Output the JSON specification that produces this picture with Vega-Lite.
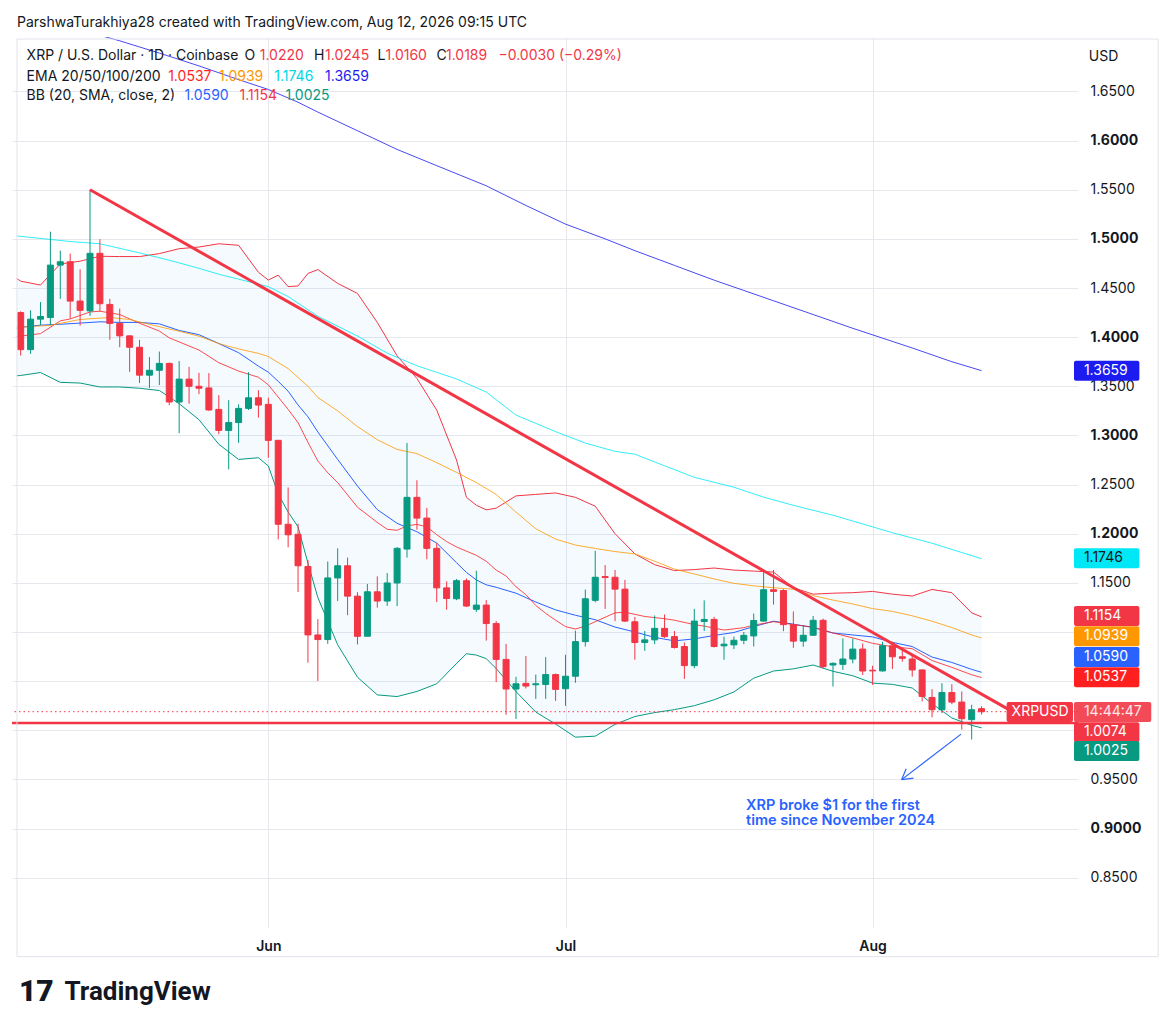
{
"$schema":"https://vega.github.io/schema/vega-lite/v6.json",
"width":1066,"height":891,"autosize":"none",
"padding":{"left":12,"top":37,"right":98,"bottom":106},
"background":"#ffffff",
"config":{"view":{"stroke":null},"font":"Inter","text":{"font":"Inter"}},
"datasets":{
"candles":[
{"d":"2026-05-07","o":1.425,"h":1.4263,"l":1.3813,"c":1.3873},
{"d":"2026-05-08","o":1.3873,"h":1.4273,"l":1.383,"c":1.4183},
{"d":"2026-05-09","o":1.4183,"h":1.4357,"l":1.4123,"c":1.421},
{"d":"2026-05-10","o":1.42,"h":1.5073,"l":1.4123,"c":1.4733},
{"d":"2026-05-11","o":1.4733,"h":1.488,"l":1.439,"c":1.4767},
{"d":"2026-05-12","o":1.4767,"h":1.485,"l":1.419,"c":1.4367},
{"d":"2026-05-13","o":1.4367,"h":1.469,"l":1.4117,"c":1.4273},
{"d":"2026-05-14","o":1.4267,"h":1.55,"l":1.4217,"c":1.4853},
{"d":"2026-05-15","o":1.4853,"h":1.4997,"l":1.4263,"c":1.434},
{"d":"2026-05-16","o":1.4333,"h":1.439,"l":1.3973,"c":1.414},
{"d":"2026-05-17","o":1.414,"h":1.429,"l":1.3897,"c":1.4013},
{"d":"2026-05-18","o":1.4013,"h":1.402,"l":1.3647,"c":1.3897},
{"d":"2026-05-19","o":1.3897,"h":1.3973,"l":1.3533,"c":1.3613},
{"d":"2026-05-20","o":1.3613,"h":1.3797,"l":1.3483,"c":1.3663},
{"d":"2026-05-21","o":1.3663,"h":1.3853,"l":1.3513,"c":1.3733},
{"d":"2026-05-22","o":1.3733,"h":1.374,"l":1.3307,"c":1.334},
{"d":"2026-05-23","o":1.334,"h":1.3757,"l":1.3023,"c":1.3573},
{"d":"2026-05-24","o":1.3573,"h":1.3697,"l":1.3323,"c":1.35},
{"d":"2026-05-25","o":1.35,"h":1.3637,"l":1.342,"c":1.348},
{"d":"2026-05-26","o":1.3483,"h":1.3634,"l":1.3249,"c":1.3259},
{"d":"2026-05-27","o":1.3265,"h":1.341,"l":1.3014,"c":1.3051},
{"d":"2026-05-28","o":1.3051,"h":1.3359,"l":1.2655,"c":1.3131},
{"d":"2026-05-29","o":1.3131,"h":1.3316,"l":1.2924,"c":1.3275},
{"d":"2026-05-30","o":1.3275,"h":1.3644,"l":1.3259,"c":1.3383},
{"d":"2026-05-31","o":1.3383,"h":1.346,"l":1.3182,"c":1.3309},
{"d":"2026-06-01","o":1.3316,"h":1.3383,"l":1.2773,"c":1.295},
{"d":"2026-06-02","o":1.295,"h":1.2955,"l":1.1942,"c":1.2096},
{"d":"2026-06-03","o":1.2096,"h":1.2471,"l":1.1861,"c":1.1989},
{"d":"2026-06-04","o":1.1995,"h":1.2103,"l":1.1406,"c":1.1674},
{"d":"2026-06-05","o":1.1667,"h":1.1734,"l":1.0688,"c":1.097},
{"d":"2026-06-06","o":1.097,"h":1.1131,"l":1.0501,"c":1.0923},
{"d":"2026-06-07","o":1.0923,"h":1.1717,"l":1.0879,"c":1.155},
{"d":"2026-06-08","o":1.155,"h":1.1851,"l":1.1315,"c":1.1674},
{"d":"2026-06-09","o":1.1674,"h":1.1757,"l":1.1171,"c":1.1365},
{"d":"2026-06-10","o":1.1365,"h":1.1405,"l":1.0873,"c":1.0956},
{"d":"2026-06-11","o":1.0957,"h":1.1489,"l":1.0955,"c":1.1409},
{"d":"2026-06-12","o":1.1409,"h":1.1566,"l":1.1248,"c":1.1315},
{"d":"2026-06-13","o":1.1315,"h":1.16,"l":1.1265,"c":1.1499},
{"d":"2026-06-14","o":1.1499,"h":1.1865,"l":1.1264,"c":1.1851},
{"d":"2026-06-15","o":1.1844,"h":1.2923,"l":1.1757,"c":1.237},
{"d":"2026-06-16","o":1.237,"h":1.2544,"l":1.2042,"c":1.2159},
{"d":"2026-06-17","o":1.2159,"h":1.2263,"l":1.174,"c":1.1851},
{"d":"2026-06-18","o":1.1851,"h":1.1907,"l":1.1304,"c":1.1449},
{"d":"2026-06-19","o":1.1449,"h":1.1516,"l":1.1227,"c":1.1341},
{"d":"2026-06-20","o":1.1338,"h":1.1539,"l":1.1324,"c":1.1522},
{"d":"2026-06-21","o":1.1522,"h":1.1545,"l":1.1254,"c":1.1264},
{"d":"2026-06-22","o":1.1231,"h":1.1623,"l":1.1204,"c":1.1274},
{"d":"2026-06-23","o":1.1274,"h":1.1324,"l":1.0912,"c":1.1086},
{"d":"2026-06-24","o":1.1086,"h":1.1113,"l":1.049,"c":1.0721},
{"d":"2026-06-25","o":1.0721,"h":1.0879,"l":1.0158,"c":1.042},
{"d":"2026-06-26","o":1.042,"h":1.0544,"l":1.0115,"c":1.0473},
{"d":"2026-06-27","o":1.0477,"h":1.0755,"l":1.0426,"c":1.045},
{"d":"2026-06-28","o":1.0463,"h":1.0567,"l":1.0319,"c":1.0473},
{"d":"2026-06-29","o":1.0466,"h":1.0745,"l":1.0319,"c":1.0567},
{"d":"2026-06-30","o":1.0567,"h":1.0577,"l":1.0299,"c":1.0416},
{"d":"2026-07-01","o":1.0423,"h":1.0768,"l":1.0249,"c":1.055},
{"d":"2026-07-02","o":1.055,"h":1.1013,"l":1.0483,"c":1.0902},
{"d":"2026-07-03","o":1.0902,"h":1.1432,"l":1.0852,"c":1.1338},
{"d":"2026-07-04","o":1.1322,"h":1.1826,"l":1.1302,"c":1.1557},
{"d":"2026-07-05","o":1.1564,"h":1.1681,"l":1.1235,"c":1.1554},
{"d":"2026-07-06","o":1.1557,"h":1.1631,"l":1.1111,"c":1.1436},
{"d":"2026-07-07","o":1.1436,"h":1.153,"l":1.1101,"c":1.1111},
{"d":"2026-07-08","o":1.1104,"h":1.1154,"l":1.0718,"c":1.0893},
{"d":"2026-07-09","o":1.0893,"h":1.101,"l":1.0809,"c":1.092},
{"d":"2026-07-10","o":1.092,"h":1.1168,"l":1.0876,"c":1.1037},
{"d":"2026-07-11","o":1.1037,"h":1.1178,"l":1.094,"c":1.0953},
{"d":"2026-07-12","o":1.0953,"h":1.101,"l":1.0832,"c":1.0842},
{"d":"2026-07-13","o":1.0852,"h":1.0893,"l":1.0523,"c":1.0658},
{"d":"2026-07-14","o":1.0658,"h":1.1235,"l":1.0631,"c":1.1111},
{"d":"2026-07-15","o":1.1107,"h":1.1322,"l":1.101,"c":1.1128},
{"d":"2026-07-16","o":1.1128,"h":1.1154,"l":1.0842,"c":1.0852},
{"d":"2026-07-17","o":1.0859,"h":1.0953,"l":1.0718,"c":1.0876},
{"d":"2026-07-18","o":1.0869,"h":1.0953,"l":1.0826,"c":1.0916},
{"d":"2026-07-19","o":1.0916,"h":1.1,"l":1.0876,"c":1.0966},
{"d":"2026-07-20","o":1.096,"h":1.1188,"l":1.0852,"c":1.1117},
{"d":"2026-07-21","o":1.1111,"h":1.1624,"l":1.1108,"c":1.143},
{"d":"2026-07-22","o":1.143,"h":1.1631,"l":1.1279,"c":1.1413},
{"d":"2026-07-23","o":1.1422,"h":1.1435,"l":1.1008,"c":1.1075},
{"d":"2026-07-24","o":1.1075,"h":1.121,"l":1.0839,"c":1.0907},
{"d":"2026-07-25","o":1.0907,"h":1.1069,"l":1.085,"c":1.0967},
{"d":"2026-07-26","o":1.0967,"h":1.1163,"l":1.0961,"c":1.1119},
{"d":"2026-07-27","o":1.1119,"h":1.1136,"l":1.063,"c":1.0647},
{"d":"2026-07-28","o":1.0664,"h":1.0691,"l":1.0445,"c":1.0681},
{"d":"2026-07-29","o":1.0671,"h":1.0934,"l":1.0614,"c":1.0725},
{"d":"2026-07-30","o":1.0725,"h":1.0934,"l":1.0681,"c":1.0826},
{"d":"2026-07-31","o":1.0826,"h":1.0883,"l":1.0563,"c":1.0603},
{"d":"2026-08-01","o":1.0611,"h":1.0657,"l":1.0462,"c":1.0604},
{"d":"2026-08-02","o":1.0604,"h":1.09,"l":1.0598,"c":1.086},
{"d":"2026-08-03","o":1.086,"h":1.09,"l":1.0624,"c":1.0748},
{"d":"2026-08-04","o":1.0748,"h":1.0833,"l":1.0698,"c":1.0732},
{"d":"2026-08-05","o":1.0725,"h":1.0765,"l":1.0546,"c":1.0614},
{"d":"2026-08-06","o":1.0614,"h":1.0618,"l":1.0293,"c":1.0344},
{"d":"2026-08-07","o":1.0334,"h":1.0418,"l":1.0132,"c":1.0209},
{"d":"2026-08-08","o":1.0209,"h":1.0479,"l":1.0175,"c":1.0384},
{"d":"2026-08-09","o":1.0384,"h":1.0469,"l":1.0266,"c":1.0287},
{"d":"2026-08-10","o":1.0287,"h":1.0395,"l":1.0007,"c":1.0118},
{"d":"2026-08-11","o":1.0108,"h":1.026,"l":0.9906,"c":1.0209},
{"d":"2026-08-12","o":1.022,"h":1.0245,"l":1.016,"c":1.0189}
],
"bb":[
{"d":"2026-05-06T14:24:00Z","upper":1.4597,"basis":1.409,"lower":1.3607},
{"d":"2026-05-07","upper":1.457,"basis":1.41,"lower":1.361},
{"d":"2026-05-09","upper":1.453,"basis":1.4122,"lower":1.364},
{"d":"2026-05-11","upper":1.4745,"basis":1.4131,"lower":1.354},
{"d":"2026-05-13","upper":1.4773,"basis":1.4143,"lower":1.3533},
{"d":"2026-05-15","upper":1.4823,"basis":1.4156,"lower":1.3493},
{"d":"2026-05-17","upper":1.482,"basis":1.415,"lower":1.3493},
{"d":"2026-05-19","upper":1.482,"basis":1.415,"lower":1.348},
{"d":"2026-05-21","upper":1.485,"basis":1.4135,"lower":1.3457},
{"d":"2026-05-23","upper":1.49,"basis":1.4068,"lower":1.3323},
{"d":"2026-05-25","upper":1.4917,"basis":1.4025,"lower":1.316},
{"d":"2026-05-27","upper":1.495,"basis":1.3935,"lower":1.291},
{"d":"2026-05-29","upper":1.4935,"basis":1.3842,"lower":1.2756},
{"d":"2026-05-31","upper":1.466,"basis":1.3705,"lower":1.2773},
{"d":"2026-06-01","upper":1.4581,"basis":1.3644,"lower":1.2689},
{"d":"2026-06-02","upper":1.4631,"basis":1.355,"lower":1.2404},
{"d":"2026-06-03","upper":1.4514,"basis":1.345,"lower":1.222},
{"d":"2026-06-04","upper":1.4521,"basis":1.331,"lower":1.207},
{"d":"2026-06-05","upper":1.4648,"basis":1.319,"lower":1.17},
{"d":"2026-06-06","upper":1.4688,"basis":1.3035,"lower":1.135},
{"d":"2026-06-08","upper":1.4547,"basis":1.2756,"lower":1.087},
{"d":"2026-06-10","upper":1.4445,"basis":1.2485,"lower":1.054},
{"d":"2026-06-12","upper":1.415,"basis":1.2245,"lower":1.036},
{"d":"2026-06-14","upper":1.381,"basis":1.2106,"lower":1.0343},
{"d":"2026-06-16","upper":1.358,"basis":1.202,"lower":1.0395},
{"d":"2026-06-18","upper":1.3258,"basis":1.1905,"lower":1.0473},
{"d":"2026-06-20","upper":1.275,"basis":1.1705,"lower":1.068},
{"d":"2026-06-21","upper":1.237,"basis":1.1606,"lower":1.0779},
{"d":"2026-06-22","upper":1.229,"basis":1.153,"lower":1.0765},
{"d":"2026-06-23","upper":1.2243,"basis":1.148,"lower":1.0729},
{"d":"2026-06-24","upper":1.226,"basis":1.1455,"lower":1.0628},
{"d":"2026-06-26","upper":1.2385,"basis":1.1395,"lower":1.0394},
{"d":"2026-06-28","upper":1.24,"basis":1.1305,"lower":1.0185},
{"d":"2026-06-30","upper":1.2415,"basis":1.1225,"lower":1.0063},
{"d":"2026-07-02","upper":1.237,"basis":1.117,"lower":0.993},
{"d":"2026-07-04","upper":1.228,"basis":1.1125,"lower":0.994},
{"d":"2026-07-06","upper":1.2,"basis":1.105,"lower":1.006},
{"d":"2026-07-08","upper":1.1795,"basis":1.1,"lower":1.014},
{"d":"2026-07-10","upper":1.1685,"basis":1.0945,"lower":1.018},
{"d":"2026-07-12","upper":1.1625,"basis":1.091,"lower":1.021},
{"d":"2026-07-14","upper":1.1635,"basis":1.093,"lower":1.025},
{"d":"2026-07-16","upper":1.1651,"basis":1.0965,"lower":1.031},
{"d":"2026-07-18","upper":1.163,"basis":1.0995,"lower":1.039},
{"d":"2026-07-20","upper":1.162,"basis":1.1055,"lower":1.053},
{"d":"2026-07-22","upper":1.161,"basis":1.111,"lower":1.0603},
{"d":"2026-07-24","upper":1.145,"basis":1.108,"lower":1.0625},
{"d":"2026-07-26","upper":1.1385,"basis":1.1045,"lower":1.0664},
{"d":"2026-07-28","upper":1.1395,"basis":1.099,"lower":1.06},
{"d":"2026-07-30","upper":1.14,"basis":1.097,"lower":1.0555},
{"d":"2026-08-01","upper":1.1413,"basis":1.095,"lower":1.048},
{"d":"2026-08-03","upper":1.1385,"basis":1.0895,"lower":1.0467},
{"d":"2026-08-05","upper":1.1366,"basis":1.0852,"lower":1.043},
{"d":"2026-08-07","upper":1.1433,"basis":1.0745,"lower":1.027},
{"d":"2026-08-09","upper":1.14,"basis":1.069,"lower":1.0125},
{"d":"2026-08-11","upper":1.1195,"basis":1.062,"lower":1.005},
{"d":"2026-08-12","upper":1.1154,"basis":1.059,"lower":1.0025}
],
"ema":[
{"d":"2026-05-06T14:24:00Z","s":"EMA20","v":1.4007},{"d":"2026-05-07","s":"EMA20","v":1.401},{"d":"2026-05-09","s":"EMA20","v":1.4036},{"d":"2026-05-11","s":"EMA20","v":1.4166},{"d":"2026-05-12","s":"EMA20","v":1.4185},{"d":"2026-05-14","s":"EMA20","v":1.4256},{"d":"2026-05-15","s":"EMA20","v":1.4264},{"d":"2026-05-17","s":"EMA20","v":1.423},{"d":"2026-05-19","s":"EMA20","v":1.4142},{"d":"2026-05-21","s":"EMA20","v":1.4062},{"d":"2026-05-22","s":"EMA20","v":1.3993},{"d":"2026-05-24","s":"EMA20","v":1.391},{"d":"2026-05-25","s":"EMA20","v":1.3869},{"d":"2026-05-27","s":"EMA20","v":1.374},{"d":"2026-05-29","s":"EMA20","v":1.3655},{"d":"2026-05-31","s":"EMA20","v":1.3592},{"d":"2026-06-01","s":"EMA20","v":1.3515},{"d":"2026-06-02","s":"EMA20","v":1.339},{"d":"2026-06-03","s":"EMA20","v":1.3265},{"d":"2026-06-04","s":"EMA20","v":1.313},{"d":"2026-06-05","s":"EMA20","v":1.293},{"d":"2026-06-06","s":"EMA20","v":1.274},{"d":"2026-06-07","s":"EMA20","v":1.262},{"d":"2026-06-08","s":"EMA20","v":1.252},{"d":"2026-06-10","s":"EMA20","v":1.227},{"d":"2026-06-12","s":"EMA20","v":1.2115},{"d":"2026-06-13","s":"EMA20","v":1.2045},{"d":"2026-06-14","s":"EMA20","v":1.2035},{"d":"2026-06-15","s":"EMA20","v":1.208},{"d":"2026-06-16","s":"EMA20","v":1.2095},{"d":"2026-06-17","s":"EMA20","v":1.207},{"d":"2026-06-18","s":"EMA20","v":1.199},{"d":"2026-06-19","s":"EMA20","v":1.192},{"d":"2026-06-20","s":"EMA20","v":1.1865},{"d":"2026-06-22","s":"EMA20","v":1.178},{"d":"2026-06-23","s":"EMA20","v":1.172},{"d":"2026-06-24","s":"EMA20","v":1.163},{"d":"2026-06-25","s":"EMA20","v":1.157},{"d":"2026-06-26","s":"EMA20","v":1.146},{"d":"2026-06-27","s":"EMA20","v":1.138},{"d":"2026-06-28","s":"EMA20","v":1.127},{"d":"2026-06-29","s":"EMA20","v":1.119},{"d":"2026-06-30","s":"EMA20","v":1.112},{"d":"2026-07-01","s":"EMA20","v":1.1055},{"d":"2026-07-02","s":"EMA20","v":1.103},{"d":"2026-07-03","s":"EMA20","v":1.106},{"d":"2026-07-04","s":"EMA20","v":1.1105},{"d":"2026-07-06","s":"EMA20","v":1.1195},{"d":"2026-07-07","s":"EMA20","v":1.1201},{"d":"2026-07-09","s":"EMA20","v":1.1158},{"d":"2026-07-11","s":"EMA20","v":1.1135},{"d":"2026-07-12","s":"EMA20","v":1.112},{"d":"2026-07-14","s":"EMA20","v":1.1075},{"d":"2026-07-15","s":"EMA20","v":1.106},{"d":"2026-07-17","s":"EMA20","v":1.102},{"d":"2026-07-19","s":"EMA20","v":1.1044},{"d":"2026-07-20","s":"EMA20","v":1.107},{"d":"2026-07-22","s":"EMA20","v":1.1105},{"d":"2026-07-24","s":"EMA20","v":1.1075},{"d":"2026-07-26","s":"EMA20","v":1.105},{"d":"2026-07-28","s":"EMA20","v":1.099},{"d":"2026-07-30","s":"EMA20","v":1.094},{"d":"2026-08-01","s":"EMA20","v":1.0885},{"d":"2026-08-03","s":"EMA20","v":1.085},{"d":"2026-08-05","s":"EMA20","v":1.083},{"d":"2026-08-06","s":"EMA20","v":1.077},{"d":"2026-08-07","s":"EMA20","v":1.071},{"d":"2026-08-09","s":"EMA20","v":1.064},{"d":"2026-08-11","s":"EMA20","v":1.0565},{"d":"2026-08-12","s":"EMA20","v":1.0537},
{"d":"2026-05-06T14:24:00Z","s":"EMA50","v":1.41},{"d":"2026-05-07","s":"EMA50","v":1.4102},{"d":"2026-05-10","s":"EMA50","v":1.412},{"d":"2026-05-13","s":"EMA50","v":1.418},{"d":"2026-05-16","s":"EMA50","v":1.42},{"d":"2026-05-18","s":"EMA50","v":1.418},{"d":"2026-05-20","s":"EMA50","v":1.413},{"d":"2026-05-23","s":"EMA50","v":1.406},{"d":"2026-05-25","s":"EMA50","v":1.401},{"d":"2026-05-27","s":"EMA50","v":1.3935},{"d":"2026-05-29","s":"EMA50","v":1.388},{"d":"2026-05-31","s":"EMA50","v":1.3835},{"d":"2026-06-01","s":"EMA50","v":1.3803},{"d":"2026-06-03","s":"EMA50","v":1.368},{"d":"2026-06-05","s":"EMA50","v":1.35},{"d":"2026-06-06","s":"EMA50","v":1.3386},{"d":"2026-06-08","s":"EMA50","v":1.325},{"d":"2026-06-10","s":"EMA50","v":1.309},{"d":"2026-06-12","s":"EMA50","v":1.2956},{"d":"2026-06-14","s":"EMA50","v":1.2858},{"d":"2026-06-16","s":"EMA50","v":1.2815},{"d":"2026-06-18","s":"EMA50","v":1.2723},{"d":"2026-06-20","s":"EMA50","v":1.2624},{"d":"2026-06-22","s":"EMA50","v":1.252},{"d":"2026-06-24","s":"EMA50","v":1.24},{"d":"2026-06-26","s":"EMA50","v":1.222},{"d":"2026-06-28","s":"EMA50","v":1.205},{"d":"2026-06-30","s":"EMA50","v":1.1945},{"d":"2026-07-02","s":"EMA50","v":1.1885},{"d":"2026-07-04","s":"EMA50","v":1.185},{"d":"2026-07-06","s":"EMA50","v":1.1818},{"d":"2026-07-08","s":"EMA50","v":1.1795},{"d":"2026-07-10","s":"EMA50","v":1.172},{"d":"2026-07-12","s":"EMA50","v":1.164},{"d":"2026-07-14","s":"EMA50","v":1.159},{"d":"2026-07-16","s":"EMA50","v":1.154},{"d":"2026-07-18","s":"EMA50","v":1.1495},{"d":"2026-07-20","s":"EMA50","v":1.147},{"d":"2026-07-22","s":"EMA50","v":1.145},{"d":"2026-07-24","s":"EMA50","v":1.1435},{"d":"2026-07-26","s":"EMA50","v":1.137},{"d":"2026-07-28","s":"EMA50","v":1.1325},{"d":"2026-07-30","s":"EMA50","v":1.1285},{"d":"2026-08-01","s":"EMA50","v":1.1238},{"d":"2026-08-03","s":"EMA50","v":1.121},{"d":"2026-08-05","s":"EMA50","v":1.1165},{"d":"2026-08-07","s":"EMA50","v":1.111},{"d":"2026-08-09","s":"EMA50","v":1.1045},{"d":"2026-08-11","s":"EMA50","v":1.097},{"d":"2026-08-12","s":"EMA50","v":1.0939},
{"d":"2026-05-06T14:24:00Z","s":"EMA100","v":1.503},{"d":"2026-05-12","s":"EMA100","v":1.4973},{"d":"2026-05-15","s":"EMA100","v":1.495},{"d":"2026-05-19","s":"EMA100","v":1.4857},{"d":"2026-05-22","s":"EMA100","v":1.4783},{"d":"2026-05-25","s":"EMA100","v":1.47},{"d":"2026-05-27","s":"EMA100","v":1.464},{"d":"2026-05-29","s":"EMA100","v":1.459},{"d":"2026-06-01","s":"EMA100","v":1.4514},{"d":"2026-06-03","s":"EMA100","v":1.4413},{"d":"2026-06-06","s":"EMA100","v":1.4212},{"d":"2026-06-10","s":"EMA100","v":1.4011},{"d":"2026-06-13","s":"EMA100","v":1.3837},{"d":"2026-06-16","s":"EMA100","v":1.3709},{"d":"2026-06-20","s":"EMA100","v":1.3575},{"d":"2026-06-23","s":"EMA100","v":1.3441},{"d":"2026-06-26","s":"EMA100","v":1.3207},{"d":"2026-06-30","s":"EMA100","v":1.3039},{"d":"2026-07-03","s":"EMA100","v":1.2922},{"d":"2026-07-06","s":"EMA100","v":1.2838},{"d":"2026-07-08","s":"EMA100","v":1.2809},{"d":"2026-07-11","s":"EMA100","v":1.2691},{"d":"2026-07-14","s":"EMA100","v":1.2574},{"d":"2026-07-18","s":"EMA100","v":1.2473},{"d":"2026-07-21","s":"EMA100","v":1.2372},{"d":"2026-07-24","s":"EMA100","v":1.2289},{"d":"2026-07-28","s":"EMA100","v":1.2188},{"d":"2026-08-01","s":"EMA100","v":1.207},{"d":"2026-08-03","s":"EMA100","v":1.201},{"d":"2026-08-07","s":"EMA100","v":1.1903},{"d":"2026-08-12","s":"EMA100","v":1.1746},
{"d":"2026-05-06T14:24:00Z","s":"EMA200","v":1.7306},{"d":"2026-05-07","s":"EMA200","v":1.7295},{"d":"2026-05-12","s":"EMA200","v":1.7155},{"d":"2026-05-17","s":"EMA200","v":1.7015},{"d":"2026-05-21","s":"EMA200","v":1.689},{"d":"2026-05-25","s":"EMA200","v":1.676},{"d":"2026-05-29","s":"EMA200","v":1.662},{"d":"2026-06-01","s":"EMA200","v":1.652},{"d":"2026-06-04","s":"EMA200","v":1.639},{"d":"2026-06-06","s":"EMA200","v":1.629},{"d":"2026-06-10","s":"EMA200","v":1.61},{"d":"2026-06-14","s":"EMA200","v":1.591},{"d":"2026-06-18","s":"EMA200","v":1.5745},{"d":"2026-06-23","s":"EMA200","v":1.554},{"d":"2026-06-27","s":"EMA200","v":1.534},{"d":"2026-07-01","s":"EMA200","v":1.515},{"d":"2026-07-05","s":"EMA200","v":1.5},{"d":"2026-07-08","s":"EMA200","v":1.488},{"d":"2026-07-12","s":"EMA200","v":1.473},{"d":"2026-07-16","s":"EMA200","v":1.458},{"d":"2026-07-19","s":"EMA200","v":1.4475},{"d":"2026-07-22","s":"EMA200","v":1.437},{"d":"2026-07-26","s":"EMA200","v":1.423},{"d":"2026-07-30","s":"EMA200","v":1.409},{"d":"2026-08-02","s":"EMA200","v":1.399},{"d":"2026-08-05","s":"EMA200","v":1.389},{"d":"2026-08-09","s":"EMA200","v":1.375},{"d":"2026-08-12","s":"EMA200","v":1.3659}
],
"tags":[
{"s":"EMA200","label":"1.3659","at":1.3659},
{"s":"EMA100","label":"1.1746","at":1.1751},
{"s":"upper","label":"1.1154","at":1.1163},
{"s":"EMA50","label":"1.0939","at":1.0957},
{"s":"basis","label":"1.0590","at":1.0746},
{"s":"EMA20","label":"1.0537","at":1.0539},
{"s":"level","label":"1.0074","at":0.9981},
{"s":"lower","label":"1.0025","at":0.979}
]
},
"layer":[
{"data":{"name":"bb"},"mark":{"type":"area","color":"#2196f3","opacity":0.05,"clip":true},
 "encoding":{
  "x":{"field":"d","type":"temporal","scale":{"type":"utc","domain":[{"year":2026,"month":5,"date":6,"hours":15,"minutes":7,"seconds":12,"utc":true},{"year":2026,"month":8,"date":21,"hours":5,"minutes":31,"seconds":12,"utc":true}]},
   "axis":{"title":null,"values":[{"year":2026,"month":6,"date":1,"utc":true},{"year":2026,"month":7,"date":1,"utc":true},{"year":2026,"month":8,"date":1,"utc":true}],"labelExpr":"utcFormat(datum.value, '%b')","grid":true,"gridColor":"#e6e8ee","ticks":false,"tickSize":0,"domain":false,"labelPadding":11,"labelFontSize":14,"labelFontWeight":600,"labelColor":"#131722","labelFont":"Inter"}},
  "y":{"field":"upper","type":"quantitative","scale":{"domain":[0.80392,1.7003],"zero":false,"nice":false},
   "axis":{"title":null,"orient":"right","values":[0.85,0.9,0.95,1.0,1.05,1.1,1.15,1.2,1.25,1.3,1.35,1.4,1.45,1.5,1.55,1.6,1.65],"labelExpr":"(abs(datum.value-1) < 0.001 || abs(datum.value-1.05) < 0.001 || abs(datum.value-1.1) < 0.001) ? '' : format(datum.value, '.4f')","grid":true,"gridColor":"#e6e8ee","ticks":false,"tickSize":0,"domain":false,"labelPadding":12,"labelFontSize":14,"labelColor":"#131722","labelFont":"Inter","labelOverlap":false,"labelFontWeight":{"condition":{"test":"round(datum.value*100) % 10 === 0","value":"bold"},"value":"normal"}}},
  "y2":{"field":"lower"}}},
{"data":{"name":"bb"},"transform":[{"fold":["upper","basis","lower"],"as":["s","v"]}],
 "mark":{"type":"line","strokeWidth":1,"clip":true},
 "encoding":{"x":{"field":"d","type":"temporal"},"y":{"field":"v","type":"quantitative"},
  "color":{"field":"s","type":"nominal","legend":null,"scale":{"domain":["EMA20","EMA50","EMA100","EMA200","basis","upper","lower","level"],"range":["#ff1f1f","#ff9800","#00e8f5","#1c1cf0","#2962ff","#f23645","#089981","#f23645"]}}}},
{"data":{"name":"ema"},"mark":{"type":"line","strokeWidth":1,"strokeOpacity":0.8,"clip":true},
 "encoding":{"x":{"field":"d","type":"temporal"},"y":{"field":"v","type":"quantitative"},
  "color":{"field":"s","type":"nominal","legend":null,"scale":{"domain":["EMA20","EMA50","EMA100","EMA200","basis","upper","lower","level"],"range":["#ff1f1f","#ff9800","#00e8f5","#1c1cf0","#2962ff","#f23645","#089981","#f23645"]}}}},
{"data":{"name":"candles"},"mark":{"type":"rule","strokeWidth":1},
 "encoding":{"x":{"field":"d","type":"temporal"},"y":{"field":"l","type":"quantitative"},"y2":{"field":"h"},
  "color":{"condition":{"test":"datum.c < datum.o","value":"#f23645"},"value":"#089981"}}},
{"data":{"name":"candles"},"mark":{"type":"bar","size":6,"strokeWidth":1},
 "encoding":{"x":{"field":"d","type":"temporal"},"y":{"field":"o","type":"quantitative"},"y2":{"field":"c"},
  "fill":{"condition":{"test":"datum.c < datum.o","value":"#f23645"},"value":"#089981"},
  "stroke":{"condition":{"test":"datum.c < datum.o","value":"#f23645"},"value":"#089981"}}},
{"data":{"values":[{}]},"mark":{"type":"rule","color":"#f23645","strokeWidth":1,"strokeDash":[1.5,3]},
 "encoding":{"y":{"datum":1.0189,"type":"quantitative"}}},
{"data":{"values":[{}]},"mark":{"type":"rule","color":"#f23645","strokeWidth":2.5},
 "encoding":{"y":{"datum":1.0074,"type":"quantitative"}}},
{"data":{"values":[{}]},"mark":{"type":"rule","color":"#f23645","strokeWidth":3,"clip":false},
 "encoding":{"x":{"datum":{"year":2026,"month":5,"date":14,"utc":true},"type":"temporal"},"x2":{"datum":{"year":2026,"month":8,"date":14,"hours":15,"minutes":7,"utc":true}},
  "y":{"datum":1.55,"type":"quantitative"},"y2":{"datum":1.0218}}},
{"data":{"values":[{}]},"mark":{"type":"rule","color":"#2962ff","strokeWidth":1.2},
 "encoding":{"x":{"datum":{"year":2026,"month":8,"date":9,"hours":22,"minutes":19,"utc":true},"type":"temporal"},"x2":{"datum":{"year":2026,"month":8,"date":3,"hours":22,"minutes":19,"utc":true}},
  "y":{"datum":0.9961,"type":"quantitative"},"y2":{"datum":0.9498}}},
{"data":{"values":[{}]},"mark":{"type":"rule","color":"#2962ff","strokeWidth":1.2},
 "encoding":{"x":{"datum":{"year":2026,"month":8,"date":5,"hours":3,"minutes":7,"utc":true},"type":"temporal"},"x2":{"datum":{"year":2026,"month":8,"date":3,"hours":22,"minutes":19,"utc":true}},
  "y":{"datum":0.9514,"type":"quantitative"},"y2":{"datum":0.9498}}},
{"data":{"values":[{}]},"mark":{"type":"rule","color":"#2962ff","strokeWidth":1.2},
 "encoding":{"x":{"datum":{"year":2026,"month":8,"date":4,"hours":9,"minutes":22,"utc":true},"type":"temporal"},"x2":{"datum":{"year":2026,"month":8,"date":3,"hours":22,"minutes":19,"utc":true}},
  "y":{"datum":0.9609,"type":"quantitative"},"y2":{"datum":0.9498}}},
{"data":{"values":[{}]},"mark":{"type":"text","align":"left","baseline":"middle","fontSize":14.5,"fontWeight":600,"lineHeight":15,"color":"#2962ff"},
 "encoding":{"x":{"datum":{"year":2026,"month":7,"date":19,"hours":5,"minutes":31,"utc":true},"type":"temporal"},"y":{"datum":0.92314,"type":"quantitative"},"text":{"value":["XRP broke $1 for the first","time since November 2024"]}}},
{"data":{"values":[{}]},"mark":{"type":"bar","size":20,"cornerRadius":2,"color":"#f23645","orient":"horizontal"},
 "encoding":{"x":{"datum":{"year":2026,"month":8,"date":14,"hours":12,"minutes":43,"utc":true},"type":"temporal"},"x2":{"datum":{"year":2026,"month":8,"date":21,"hours":5,"minutes":31,"utc":true}},
  "y":{"datum":1.0187,"type":"quantitative"}}},
{"data":{"values":[{}]},"mark":{"type":"text","align":"left","baseline":"middle","fontSize":14,"color":"#ffffff"},
 "encoding":{"x":{"datum":{"year":2026,"month":8,"date":15,"hours":0,"minutes":43,"utc":true},"type":"temporal"},"y":{"datum":1.0187,"type":"quantitative"},"text":{"value":"XRPUSD"}}},
{"data":{"values":[{}]},"mark":{"type":"bar","size":20,"cornerRadius":2,"color":"#f23645","opacity":0.9,"orient":"horizontal","clip":false},
 "encoding":{"x":{"datum":{"year":2026,"month":8,"date":21,"hours":7,"minutes":55,"utc":true},"type":"temporal"},"x2":{"datum":{"year":2026,"month":8,"date":29,"hours":3,"minutes":7,"utc":true}},
  "y":{"datum":1.0187,"type":"quantitative"}}},
{"data":{"values":[{}]},"mark":{"type":"text","align":"left","baseline":"middle","fontSize":14,"color":"#fde6e8","clip":false},
 "encoding":{"x":{"datum":{"year":2026,"month":8,"date":22,"hours":7,"minutes":55,"utc":true},"type":"temporal"},"y":{"datum":1.0187,"type":"quantitative"},"text":{"value":"14:44:47"}}},
{"data":{"name":"tags"},"mark":{"type":"bar","size":20,"cornerRadius":2,"orient":"horizontal","clip":false},
 "encoding":{"x":{"datum":{"year":2026,"month":8,"date":21,"hours":7,"minutes":55,"utc":true},"type":"temporal"},"x2":{"datum":{"year":2026,"month":8,"date":27,"hours":22,"minutes":19,"utc":true}},
  "y":{"field":"at","type":"quantitative"},
  "color":{"field":"s","type":"nominal","legend":null,"scale":{"domain":["EMA20","EMA50","EMA100","EMA200","basis","upper","lower","level"],"range":["#ff1f1f","#ff9800","#00e8f5","#1c1cf0","#2962ff","#f23645","#089981","#f23645"]}}}},
{"data":{"name":"tags"},"mark":{"type":"text","align":"left","baseline":"middle","fontSize":14,"clip":false},
 "encoding":{"x":{"datum":{"year":2026,"month":8,"date":22,"hours":7,"minutes":55,"utc":true},"type":"temporal"},
  "y":{"field":"at","type":"quantitative"},"text":{"field":"label"},
  "color":{"condition":{"test":"datum.s === 'EMA100'","value":"#131722"},"value":"#ffffff"}}},
{"data":{"values":[{}]},"mark":{"type":"text","align":"left","baseline":"middle","fontSize":14,"color":"#131722","clip":false},
 "encoding":{"x":{"datum":{"year":2026,"month":8,"date":22,"hours":19,"minutes":55,"utc":true},"type":"temporal"},"y":{"datum":1.68521,"type":"quantitative"},"text":{"value":"USD"}}},
{"data":{"values":[{}]},"mark":{"type":"text","align":"left","baseline":"middle","fontSize":14,"color":"#131722","clip":false},
 "encoding":{"x":{"datum":{"year":2026,"month":5,"date":6,"hours":15,"minutes":7,"seconds":12,"utc":true},"type":"temporal"},"y":{"datum":1.71942,"type":"quantitative"},"text":{"value":"ParshwaTurakhiya28 created with TradingView.com, Aug 12, 2026 09:15 UTC"}}},
{"data":{"values":[{}]},"mark":{"type":"text","align":"left","baseline":"middle","fontSize":30,"fontWeight":900,"font":"Roboto","color":"#131722","clip":false},
 "encoding":{"x":{"datum":{"year":2026,"month":5,"date":6,"hours":19,"minutes":55,"utc":true},"type":"temporal"},"y":{"datum":0.7335,"type":"quantitative"},"text":{"value":"17"}}},
{"data":{"values":[{}]},"mark":{"type":"text","align":"left","baseline":"middle","fontSize":26,"fontWeight":"bold","font":"Roboto","color":"#131722","clip":false},
 "encoding":{"x":{"datum":{"year":2026,"month":5,"date":11,"hours":10,"minutes":19,"utc":true},"type":"temporal"},"y":{"datum":0.7335,"type":"quantitative"},"text":{"value":"TradingView"}}},
{"data":{"values":[{}]},"mark":{"type":"text","align":"left","baseline":"middle","fontSize":14,"color":"#131722"},
 "encoding":{"x":{"datum":{"year":2026,"month":5,"date":7,"hours":14,"minutes":24,"utc":true},"type":"temporal"},"y":{"datum":1.68622,"type":"quantitative"},"text":{"value":"XRP / U.S. Dollar · 1D · Coinbase"}}},
{"data":{"values":[{}]},"mark":{"type":"text","align":"left","baseline":"middle","fontSize":14,"color":"#131722"},
 "encoding":{"x":{"datum":{"year":2026,"month":5,"date":29,"hours":14,"minutes":24,"utc":true},"type":"temporal"},"y":{"datum":1.68622,"type":"quantitative"},"text":{"value":"O"}}},
{"data":{"values":[{}]},"mark":{"type":"text","align":"left","baseline":"middle","fontSize":14,"color":"#f23645"},
 "encoding":{"x":{"datum":{"year":2026,"month":5,"date":31,"hours":3,"minutes":7,"utc":true},"type":"temporal"},"y":{"datum":1.68622,"type":"quantitative"},"text":{"value":"1.0220"}}},
{"data":{"values":[{}]},"mark":{"type":"text","align":"left","baseline":"middle","fontSize":14,"color":"#131722"},
 "encoding":{"x":{"datum":{"year":2026,"month":6,"date":5,"hours":14,"minutes":24,"utc":true},"type":"temporal"},"y":{"datum":1.68622,"type":"quantitative"},"text":{"value":"H"}}},
{"data":{"values":[{}]},"mark":{"type":"text","align":"left","baseline":"middle","fontSize":14,"color":"#f23645"},
 "encoding":{"x":{"datum":{"year":2026,"month":6,"date":6,"hours":17,"minutes":31,"utc":true},"type":"temporal"},"y":{"datum":1.68622,"type":"quantitative"},"text":{"value":"1.0245"}}},
{"data":{"values":[{}]},"mark":{"type":"text","align":"left","baseline":"middle","fontSize":14,"color":"#131722"},
 "encoding":{"x":{"datum":{"year":2026,"month":6,"date":12,"hours":0,"minutes":14,"utc":true},"type":"temporal"},"y":{"datum":1.68622,"type":"quantitative"},"text":{"value":"L"}}},
{"data":{"values":[{}]},"mark":{"type":"text","align":"left","baseline":"middle","fontSize":14,"color":"#f23645"},
 "encoding":{"x":{"datum":{"year":2026,"month":6,"date":12,"hours":19,"minutes":55,"utc":true},"type":"temporal"},"y":{"datum":1.68622,"type":"quantitative"},"text":{"value":"1.0160"}}},
{"data":{"values":[{}]},"mark":{"type":"text","align":"left","baseline":"middle","fontSize":14,"color":"#131722"},
 "encoding":{"x":{"datum":{"year":2026,"month":6,"date":17,"hours":23,"minutes":17,"utc":true},"type":"temporal"},"y":{"datum":1.68622,"type":"quantitative"},"text":{"value":"C"}}},
{"data":{"values":[{}]},"mark":{"type":"text","align":"left","baseline":"middle","fontSize":14,"color":"#f23645"},
 "encoding":{"x":{"datum":{"year":2026,"month":6,"date":18,"hours":22,"minutes":19,"utc":true},"type":"temporal"},"y":{"datum":1.68622,"type":"quantitative"},"text":{"value":"1.0189"}}},
{"data":{"values":[{}]},"mark":{"type":"text","align":"left","baseline":"middle","fontSize":14,"color":"#f23645"},
 "encoding":{"x":{"datum":{"year":2026,"month":6,"date":24,"hours":5,"minutes":31,"utc":true},"type":"temporal"},"y":{"datum":1.68622,"type":"quantitative"},"text":{"value":"−0.0030 (−0.29%)"}}},
{"data":{"values":[{}]},"mark":{"type":"text","align":"left","baseline":"middle","fontSize":14,"color":"#131722"},
 "encoding":{"x":{"datum":{"year":2026,"month":5,"date":7,"hours":14,"minutes":24,"utc":true},"type":"temporal"},"y":{"datum":1.66509,"type":"quantitative"},"text":{"value":"EMA 20/50/100/200"}}},
{"data":{"values":[{}]},"mark":{"type":"text","align":"left","baseline":"middle","fontSize":14,"color":"#ff1f1f"},
 "encoding":{"x":{"datum":{"year":2026,"month":5,"date":21,"hours":21,"minutes":22,"utc":true},"type":"temporal"},"y":{"datum":1.66509,"type":"quantitative"},"text":{"value":"1.0537"}}},
{"data":{"values":[{}]},"mark":{"type":"text","align":"left","baseline":"middle","fontSize":14,"color":"#ff9800"},
 "encoding":{"x":{"datum":{"year":2026,"month":5,"date":27,"hours":0,"minutes":43,"utc":true},"type":"temporal"},"y":{"datum":1.66509,"type":"quantitative"},"text":{"value":"1.0939"}}},
{"data":{"values":[{}]},"mark":{"type":"text","align":"left","baseline":"middle","fontSize":14,"color":"#00d5e6"},
 "encoding":{"x":{"datum":{"year":2026,"month":6,"date":1,"hours":14,"minutes":24,"utc":true},"type":"temporal"},"y":{"datum":1.66509,"type":"quantitative"},"text":{"value":"1.1746"}}},
{"data":{"values":[{}]},"mark":{"type":"text","align":"left","baseline":"middle","fontSize":14,"color":"#1c1cf0"},
 "encoding":{"x":{"datum":{"year":2026,"month":6,"date":6,"hours":17,"minutes":31,"utc":true},"type":"temporal"},"y":{"datum":1.66509,"type":"quantitative"},"text":{"value":"1.3659"}}},
{"data":{"values":[{}]},"mark":{"type":"text","align":"left","baseline":"middle","fontSize":14,"color":"#131722"},
 "encoding":{"x":{"datum":{"year":2026,"month":5,"date":7,"hours":14,"minutes":24,"utc":true},"type":"temporal"},"y":{"datum":1.64497,"type":"quantitative"},"text":{"value":"BB (20, SMA, close, 2)"}}},
{"data":{"values":[{}]},"mark":{"type":"text","align":"left","baseline":"middle","fontSize":14,"color":"#2962ff"},
 "encoding":{"x":{"datum":{"year":2026,"month":5,"date":23,"hours":12,"minutes":43,"utc":true},"type":"temporal"},"y":{"datum":1.64497,"type":"quantitative"},"text":{"value":"1.0590"}}},
{"data":{"values":[{}]},"mark":{"type":"text","align":"left","baseline":"middle","fontSize":14,"color":"#f23645"},
 "encoding":{"x":{"datum":{"year":2026,"month":5,"date":29,"hours":2,"minutes":24,"utc":true},"type":"temporal"},"y":{"datum":1.64497,"type":"quantitative"},"text":{"value":"1.1154"}}},
{"data":{"values":[{}]},"mark":{"type":"text","align":"left","baseline":"middle","fontSize":14,"color":"#089981"},
 "encoding":{"x":{"datum":{"year":2026,"month":6,"date":2,"hours":17,"minutes":31,"utc":true},"type":"temporal"},"y":{"datum":1.64497,"type":"quantitative"},"text":{"value":"1.0025"}}},
{"data":{"values":[{}]},"mark":{"type":"rect","filled":false,"stroke":"#e0e3eb","strokeWidth":1,"clip":false},
 "encoding":{"x":{"datum":{"year":2026,"month":5,"date":6,"hours":15,"minutes":7,"seconds":12,"utc":true},"type":"temporal"},
 "x2":{"datum":{"year":2026,"month":8,"date":29,"hours":19,"minutes":55,"utc":true}},
 "y":{"datum":1.7033,"type":"quantitative"},"y2":{"datum":0.76972}}}
]
}
